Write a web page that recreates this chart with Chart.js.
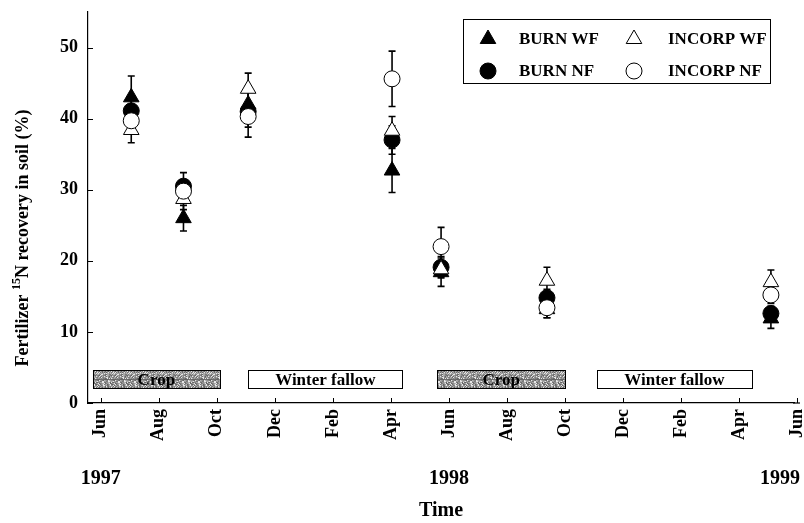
<!DOCTYPE html>
<html><head><meta charset="utf-8">
<script src="https://cdn.jsdelivr.net/npm/chart.js@4.4.1/dist/chart.umd.min.js"></script>
<style>html,body{margin:0;padding:0;background:#fff}#wrap{width:804px;height:523px;position:relative}</style>
</head><body><div id="wrap"><canvas id="c"></canvas></div>
<script>
// ---- data ----
const monthTicks = [0,2,4,6,8,10,12,14,16,18,20,22,24];
const monthLabels = ['Jun','Aug','Oct','Dec','Feb','Apr','Jun','Aug','Oct','Dec','Feb','Apr','Jun'];
const yearLabels = ['1997','1998','1999'];
const yearMonths = [0,12,24];
const sampleMonths = [1.05, 2.85, 5.08, 10.04, 11.73, 15.38, 23.1];
const burnWF    = [43.0, 26.0, 42.0, 32.7, 18.4, 13.2, 11.9];
const burnWFErr = [3.0, 1.8, 2.0, 3.1, 2.0, 1.2, 1.4];
const burnNF    = [41.1, 30.5, 41.0, 37.0, 19.1, 14.8, 12.6];
const burnNFErr = [1.8, 1.9, 3.6, 2.0, 1.5, 1.2, 1.0];
const incWF     = [38.4, 28.7, 44.2, 38.3, 18.8, 17.2, 17.0];
const incWFErr  = [1.8, 1.5, 2.2, 2.0, 1.0, 1.9, 1.7];
const incNF     = [39.7, 29.8, 40.3, 45.6, 22.0, 13.4, 15.2];
const incNFErr  = [1.5, 1.5, 1.5, 3.9, 2.7, 1.4, 1.2];
const yTicks = [0,10,20,30,40,50];
const periodLabels = ['Crop','Winter fallow','Crop','Winter fallow'];
const periodStart = [-0.27, 5.08, 11.6, 17.1];
const periodEnd   = [4.1, 10.4, 16.0, 22.45];
const periodCrop  = [true, false, true, false];

const FONT = '"Liberation Serif", "Times New Roman", serif';

function pts(ys){ return sampleMonths.map((m,i)=>({x:m, y:ys[i]})); }

// stipple pattern for crop bands (deterministic)
function makePattern(ctx){
  const c = document.createElement('canvas'); c.width = 16; c.height = 16;
  const g = c.getContext('2d');
  const img = g.createImageData(16,16);
  for (let j=0;j<16;j++) for (let i=0;i<16;i++){
    const h = (i*73 + j*151 + i*j*17 + (i^j)*29) % 11;
    const v = h > 8 ? 230 : 100 + h*10;
    const k = (j*16+i)*4;
    img.data[k]=v; img.data[k+1]=v; img.data[k+2]=v; img.data[k+3]=255;
  }
  g.putImageData(img,0,0);
  return ctx.createPattern(c,'repeat');
}

const datasetsInfo = [
  {label:'BURN WF', data:burnWF, err:burnWFErr, style:'triangle', fill:'#000', order:4, r:9},
  {label:'BURN NF', data:burnNF, err:burnNFErr, style:'circle', fill:'#000', order:3, r:8},
  {label:'INCORP WF', data:incWF, err:incWFErr, style:'triangle', fill:'#fff', order:2, r:9},
  {label:'INCORP NF', data:incNF, err:incNFErr, style:'circle', fill:'#fff', order:1, r:8},
];

const extras = {
  id:'extras',
  beforeDatasetsDraw(chart){
    const ctx = chart.ctx, xs = chart.scales.x, ys = chart.scales.y;
    ctx.save();
    const pat = makePattern(ctx);
    const yTop = ys.getPixelForValue(4.6), yBot = ys.getPixelForValue(2.0);
    periodLabels.forEach((lab,i)=>{
      const x0 = xs.getPixelForValue(periodStart[i]), x1 = xs.getPixelForValue(periodEnd[i]);
      ctx.fillStyle = periodCrop[i] ? pat : '#fff';
      ctx.fillRect(x0, yTop, x1-x0, yBot-yTop);
      ctx.strokeStyle = '#000'; ctx.lineWidth = 1;
      ctx.strokeRect(Math.round(x0)+0.5, Math.round(yTop)+0.5, Math.round(x1-x0), Math.round(yBot-yTop));
      ctx.fillStyle = '#000';
      ctx.font = 'bold 17px ' + FONT;
      ctx.textAlign = 'center'; ctx.textBaseline = 'middle';
      ctx.fillText(lab, (x0+x1)/2, (yTop+yBot)/2 + 1);
    });
    ctx.strokeStyle = '#000'; ctx.lineWidth = 1.6;
    datasetsInfo.forEach(d=>{
      d.data.forEach((v,i)=>{
        const x = xs.getPixelForValue(sampleMonths[i]);
        const a = ys.getPixelForValue(v + d.err[i]), b = ys.getPixelForValue(v - d.err[i]);
        ctx.beginPath();
        ctx.moveTo(x, a); ctx.lineTo(x, b);
        ctx.moveTo(x-3.5, a); ctx.lineTo(x+3.5, a);
        ctx.moveTo(x-3.5, b); ctx.lineTo(x+3.5, b);
        ctx.stroke();
      });
    });
    ctx.restore();
  },
  afterDraw(chart){
    const ctx = chart.ctx, xs = chart.scales.x, ys = chart.scales.y, ca = chart.chartArea;
    ctx.save();
    ctx.strokeStyle = '#000'; ctx.lineWidth = 1.2;
    const xEnd = xs.getPixelForValue(monthTicks[monthTicks.length-1]) + 3;
    ctx.beginPath(); ctx.moveTo(ca.right - 1, ca.bottom); ctx.lineTo(xEnd, ca.bottom); ctx.stroke();
    ctx.lineWidth = 1;
    monthTicks.forEach(m=>{
      const x = Math.round(xs.getPixelForValue(m))+0.5;
      ctx.beginPath(); ctx.moveTo(x, ca.bottom); ctx.lineTo(x, ca.bottom-5); ctx.stroke();
    });
    yTicks.forEach(v=>{
      const y = Math.round(ys.getPixelForValue(v))+0.5;
      ctx.beginPath(); ctx.moveTo(ca.left, y); ctx.lineTo(ca.left+5, y); ctx.stroke();
    });
    ctx.fillStyle = '#000';
    ctx.font = 'bold 20px ' + FONT;
    ctx.textBaseline = 'middle';
    yearLabels.forEach((t,i)=>{
      let x = xs.getPixelForValue(yearMonths[i]);
      const w = ctx.measureText(t).width;
      ctx.textAlign = 'left';
      let left = x - w/2;
      if (left + w > chart.width - 4) left = chart.width - 4 - w;
      ctx.fillText(t, left, 479);
    });
    ctx.save();
    ctx.translate(23, 238);
    ctx.rotate(-Math.PI/2);
    const p1 = 'Fertilizer ', sup = '15', p2 = 'N recovery in soil (%)';
    const fBig = 'bold 18px ' + FONT, fSmall = 'bold 12px ' + FONT;
    ctx.font = fBig; const w1 = ctx.measureText(p1).width, w3 = ctx.measureText(p2).width;
    ctx.font = fSmall; const w2 = ctx.measureText(sup).width;
    let x = -(w1+w2+w3)/2;
    ctx.textAlign = 'left'; ctx.textBaseline = 'middle';
    ctx.font = fBig; ctx.fillText(p1, x, 0); x += w1;
    ctx.font = fSmall; ctx.fillText(sup, x, -6); x += w2;
    ctx.font = fBig; ctx.fillText(p2, x, 0);
    ctx.restore();
    ctx.lineWidth = 1;
    ctx.strokeRect(463.5, 19.5, 307, 64);
    const lx = [488, 634], tx = [519, 668], ly = [39, 71];
    datasetsInfo.forEach((d,i)=>{
      const row = i % 2;
      const c = i < 2 ? 0 : 1;
      const px = lx[c], py = ly[row];
      ctx.fillStyle = d.fill; ctx.strokeStyle = '#000'; ctx.lineWidth = 1;
      Chart.helpers.drawPoint(ctx, {pointStyle:d.style, radius:d.r, rotation:0, borderWidth:1}, px, py);
      ctx.fillStyle = '#000';
      ctx.font = 'bold 17px ' + FONT;
      ctx.textAlign = 'left'; ctx.textBaseline = 'middle';
      ctx.fillText(d.label, tx[c], py + 1);
    });
    ctx.restore();
  }
};

new Chart(document.getElementById('c'), {
  type: 'scatter',
  data: {
    datasets: datasetsInfo.map(d=>({
      label: d.label,
      data: pts(d.data),
      pointStyle: d.style,
      pointRadius: d.r,
      pointHoverRadius: d.r,
      backgroundColor: d.fill,
      borderColor: '#000',
      borderWidth: 1,
      order: d.order,
      showLine: false
    }))
  },
  options: {
    responsive: true,
    maintainAspectRatio: false,
    animation: false,
    layout: { padding: { top: 12, right: 4, left: 0, bottom: 0 } },
    plugins: { legend: { display: false }, tooltip: { enabled: false } },
    scales: {
      x: {
        type: 'linear',
        min: -0.441, max: 23.896,
        afterBuildTicks: (s)=>{ s.ticks = monthTicks.map(v=>({value:v})); },
        afterFit: (s)=>{ s.height = 120; s.paddingLeft = 0; s.paddingRight = 0; s.paddingTop = 0; s.paddingBottom = 0; },
        grid: { display: false, drawTicks: false },
        border: { display: true, color: '#000', width: 1.2 },
        ticks: {
          autoSkip: false, minRotation: 90, maxRotation: 90, padding: 6,
          color: '#000',
          font: { family: FONT, size: 18, weight: 'bold' },
          callback: (v, i)=> monthLabels[i]
        },
        title: { display: true, text: 'Time', color: '#000', padding: { top: 0, bottom: 0 },
          font: { family: FONT, size: 20, weight: 'bold' } }
      },
      y: {
        min: 0, max: 55,
        afterBuildTicks: (s)=>{ s.ticks = yTicks.map(v=>({value:v})); },
        afterFit: (s)=>{ s.width = 88; s.paddingTop = 0; s.paddingBottom = 0; s.paddingLeft = 0; s.paddingRight = 0; },
        grid: { display: false, drawTicks: false },
        border: { display: true, color: '#000', width: 1.2 },
        ticks: { padding: 10, color: '#000', font: { family: FONT, size: 18, weight: 'bold' } }
      }
    }
  },
  plugins: [extras]
});
</script>
</body></html>
